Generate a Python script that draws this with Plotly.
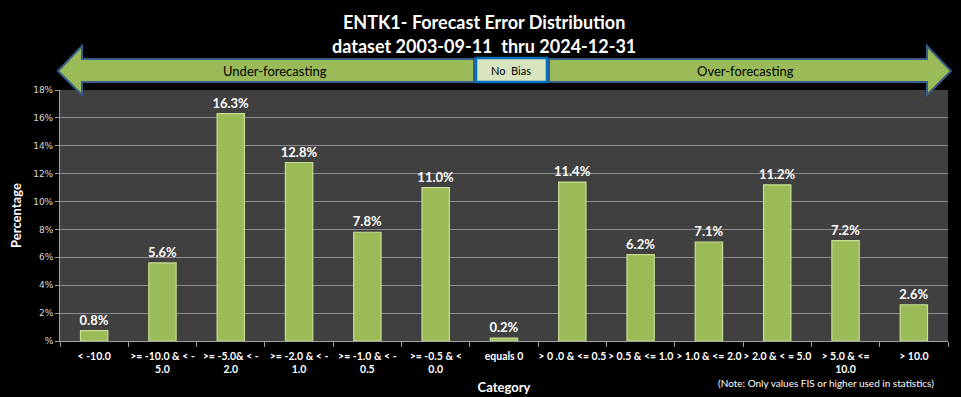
import plotly.graph_objects as go

categories = ["< -10.0", ">= -10.0 & < -<br>5.0", ">= -5.0& < -<br>2.0", ">= -2.0 & < -<br>1.0",
              ">= -1.0 & < -<br>0.5", ">= -0.5 & <<br>0.0", "equals 0", "> 0 .0 & <= 0.5",
              "> 0.5 & <= 1.0", "> 1.0 & <= 2.0", "> 2.0 & < = 5.0", "> 5.0 & <=<br>10.0", "> 10.0"]
values = [0.75, 5.6, 16.3, 12.8, 7.8, 11.0, 0.2, 11.4, 6.2, 7.1, 11.2, 7.2, 2.6]
labels = ["0.8%", "5.6%", "16.3%", "12.8%", "7.8%", "11.0%", "0.2%", "11.4%", "6.2%", "7.1%", "11.2%", "7.2%", "2.6%"]
y_ticks = [0, 2, 4, 6, 8, 10, 12, 14, 16, 18]
y_tick_labels = ["%", "2%", "4%", "6%", "8%", "10%", "12%", "14%", "16%", "18%"]

W, H = 961, 397
L, R, T, B = 60, 13, 90, 56
PW, PH = W - L - R, H - T - B

def px(x, y):
    return (x - L) / PW, (H - B - y) / PH

def path(points):
    s = ""
    for i, (x, y) in enumerate(points):
        a, b = px(x, y)
        s += ("M" if i == 0 else "L") + f"{a:.5f},{b:.5f} "
    return s + "Z"

FONT = "Lato, Carlito, sans-serif"

fig = go.Figure(go.Bar(
    x=categories, y=values, text=[f"<b>{t}</b>" for t in labels], textposition="outside",
    textfont=dict(color="white", size=13, family=FONT), constraintext="none",
    marker=dict(color="#9BBB59", line=dict(color="#C8DF92", width=1.2)),
    cliponaxis=False,
))

left_arrow = [(58, 71), (82, 46), (82, 59), (474, 59), (474, 82), (82, 82), (82, 95)]
right_arrow = [(951, 71), (927, 46), (927, 59), (549, 59), (549, 82), (927, 82), (927, 95)]
shapes = []
for pts in (left_arrow, right_arrow):
    shapes.append(dict(type="path", xref="paper", yref="paper", path=path(pts),
                       fillcolor="#9BBB59", line=dict(color="#385D8A", width=2), layer="above"))
x0, y0 = px(476, 82)
x1, y1 = px(547, 58)
shapes.append(dict(type="rect", xref="paper", yref="paper", x0=x0, y0=y0, x1=x1, y1=y1,
                   fillcolor="#D7E4BD", line=dict(color="#0070C0", width=2.5), layer="above"))

def ann(text, x, y, size, color="black", bold=False, family=FONT, xanchor="center"):
    a, b = px(x, y)
    return dict(text=f"<b>{text}</b>" if bold else text, x=a, y=b, xref="paper", yref="paper",
                showarrow=False, xanchor=xanchor, yanchor="middle",
                font=dict(size=size, color=color, family=family))

annotations = [
    ann("ENTK1- Forecast Error Distribution", 484, 22, 18, "white", True),
    ann("dataset 2003-09-11  thru 2024-12-31", 484, 46, 18, "white", True),
    ann("Under-forecasting", 275, 71, 13),
    ann("Over-forecasting", 745, 71, 13),
    ann("No&nbsp; Bias", 511, 70, 11),
    ann("(Note: Only values FIS or higher used in statistics)", 936, 383, 10, "white", False, FONT, "right"),
]

fig.update_layout(
    width=W, height=H, margin=dict(l=L, r=R, t=T, b=B, autoexpand=False),
    paper_bgcolor="black", plot_bgcolor="#404040",
    bargap=0.6, showlegend=False,
    shapes=shapes, annotations=annotations,
    font=dict(family=FONT, color="white"),
    xaxis=dict(tickfont=dict(size=10.5, color="white", family=FONT), tickprefix="<b>", ticksuffix="</b>",
               tickangle=0, automargin=False, ticklabelstandoff=5,
               ticks="outside", tickson="boundaries", ticklen=5, tickcolor="#A0A0A0",
               showline=True, linecolor="#A0A0A0", linewidth=1,
               title=dict(text="<b>Category</b>", font=dict(size=13, color="white", family=FONT), standoff=8)),
    yaxis=dict(range=[0, 18], tickvals=y_ticks, ticktext=y_tick_labels, automargin=False,
               tickfont=dict(size=9, color="#D9D9D9", family="DejaVu Sans"),
               ticks="outside", ticklen=4, tickcolor="#A0A0A0",
               showline=True, linecolor="#A0A0A0", gridcolor="#8C8C8C", gridwidth=1,
               zeroline=False,
               title=dict(text="<b>Percentage</b>", font=dict(size=13, color="white", family=FONT), standoff=8)),
)

fig.write_html("out.html", config={"displayModeBar": False},
               post_script="document.body.style.margin='0';document.body.style.overflow='hidden';")
